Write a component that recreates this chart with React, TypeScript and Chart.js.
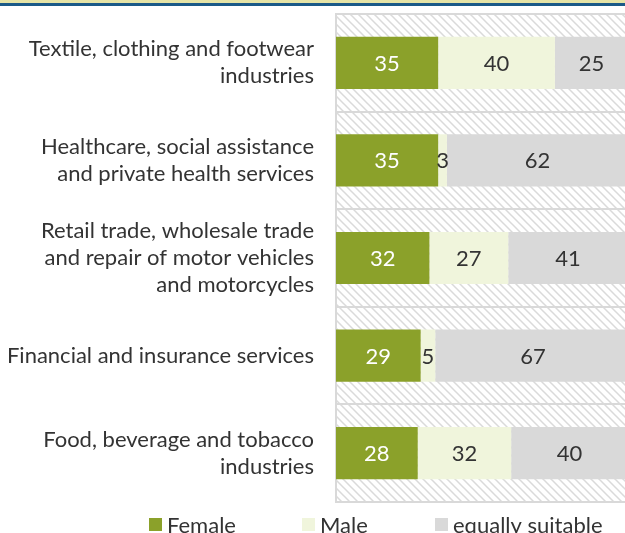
import React, { useEffect, useRef } from "react";
import { Chart, registerables } from "chart.js";

Chart.register(...registerables);

const categories: string[][] = [
  ["Textile, clothing and footwear", "industries"],
  ["Healthcare, social assistance", "and private health services"],
  ["Retail trade, wholesale trade", "and repair of motor vehicles", "and motorcycles"],
  ["Financial and insurance services"],
  ["Food, beverage and tobacco", "industries"],
];
const seriesNames = ["Female", "Male", "equally suitable"];
const female = [35, 35, 32, 29, 28];
const male = [40, 3, 27, 5, 32];
const equal = [25, 62, 41, 67, 40];
const colors = ["#8BA12A", "#F0F5DC", "#D9D9D9"];
const labelColors = ["#FFFFFF", "#333333", "#333333"];

const FONT = "Lato, 'Open Sans', sans-serif";

function makePattern(ctx: CanvasRenderingContext2D) {
  const c = document.createElement("canvas");
  c.width = 8;
  c.height = 8;
  const p = c.getContext("2d")!;
  p.fillStyle = "#ffffff";
  p.fillRect(0, 0, 8, 8);
  p.strokeStyle = "#dadada";
  p.lineWidth = 1.5;
  p.beginPath();
  p.moveTo(-2, -2);
  p.lineTo(10, 10);
  p.moveTo(-2, 6);
  p.lineTo(2, 10);
  p.moveTo(6, -2);
  p.lineTo(10, 2);
  p.stroke();
  return ctx.createPattern(c, "repeat");
}

const bgPlugin = {
  id: "bgPlugin",
  beforeDraw(chart: any) {
    const { ctx, chartArea } = chart;
    ctx.save();
    ctx.fillStyle = "#E6E4A6";
    ctx.fillRect(0, 0, chart.width, 3);
    ctx.fillStyle = "#1B5A88";
    ctx.fillRect(0, 3, chart.width, 3);
    const pat = makePattern(ctx);
    if (pat) {
      ctx.fillStyle = pat;
      ctx.fillRect(chartArea.left, chartArea.top, chartArea.right - chartArea.left, chartArea.bottom - chartArea.top);
    }
    ctx.restore();
  },
};

const valueLabelPlugin = {
  id: "valueLabelPlugin",
  afterDatasetsDraw(chart: any) {
    const { ctx } = chart;
    ctx.save();
    ctx.font = `22px ${FONT}`;
    ctx.textAlign = "center";
    ctx.textBaseline = "middle";
    chart.data.datasets.forEach((ds: any, di: number) => {
      const meta = chart.getDatasetMeta(di);
      meta.data.forEach((el: any, i: number) => {
        const v = ds.data[i];
        const x = (el.x + el.base) / 2;
        ctx.fillStyle = labelColors[di];
        ctx.fillText(String(v), x, el.y + 1);
      });
    });
    ctx.restore();
  },
};

const legendPlugin = {
  id: "customLegend",
  afterDraw(chart: any) {
    const { ctx } = chart;
    const xs = [149, 302, 435];
    const y = 524.5;
    ctx.save();
    ctx.font = `22px ${FONT}`;
    ctx.textBaseline = "middle";
    ctx.textAlign = "left";
    seriesNames.forEach((n, i) => {
      ctx.fillStyle = colors[i];
      ctx.fillRect(xs[i], y - 6.5, 13, 13);
      ctx.fillStyle = "#333333";
      ctx.fillText(n, xs[i] + 18, y + 1);
    });
    ctx.restore();
  },
};

export default function App() {
  const ref = useRef<HTMLCanvasElement>(null);
  useEffect(() => {
    if (!ref.current) return;
    const chart = new Chart(ref.current, {
      type: "bar",
      data: {
        labels: categories,
        datasets: [female, male, equal].map((d, i) => ({
          label: seriesNames[i],
          data: d,
          backgroundColor: colors[i],
          borderWidth: 0,
          barPercentage: 0.535,
          categoryPercentage: 1,
        })),
      },
      options: {
        indexAxis: "y",
        animation: false,
        responsive: false,
        layout: { padding: { top: 14, bottom: 31, left: 0, right: 0 } },
        plugins: { legend: { display: false }, tooltip: { enabled: false } },
        scales: {
          x: {
            stacked: true,
            min: 0,
            max: 99,
            display: false,
          },
          y: {
            stacked: true,
            afterFit(scale: any) {
              scale.width = 336;
              scale.paddingTop = 0;
              scale.paddingBottom = 0;
            },
            grid: {
              color: "#D9D9D9",
              lineWidth: 2,
              drawTicks: false,
              offset: true,
            },
            border: { display: true, color: "#D9D9D9", width: 2 },
            ticks: {
              padding: 22,
              color: "#333333",
              font: { family: FONT, size: 22, lineHeight: 1.23 },
            },
          },
        },
      },
      plugins: [bgPlugin, valueLabelPlugin, legendPlugin],
    });
    return () => chart.destroy();
  }, []);
  return (
    <div style={{ position: "absolute", left: 0, top: 0, width: 625, height: 533, overflow: "hidden", background: "#fff" }}>
      <canvas ref={ref} width={625} height={533} />
    </div>
  );
}
